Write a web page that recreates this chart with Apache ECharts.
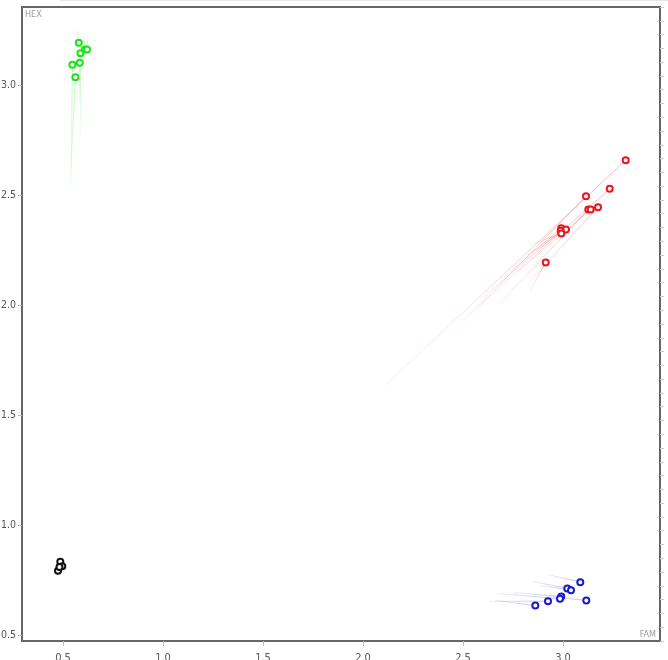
<!DOCTYPE html>
<html><head><meta charset="utf-8">
<script src="https://cdn.jsdelivr.net/npm/echarts@6/dist/echarts.min.js"></script>
<style>html,body{margin:0;padding:0;background:#fff}#c{width:668px;height:660px}</style>
</head><body><div id="c"></div>
<script>
// current positions
var greenX = [0.579, 0.587, 0.609, 0.620, 0.547, 0.584, 0.562];
var greenY = [3.192, 3.145, 3.162, 3.162, 3.092, 3.101, 3.035];
var greenFromX = [0.570, 0.587, 0.605, 0.625, 0.540, 0.580, 0.535];
var greenFromY = [3.250, 2.768, 3.236, 3.223, 2.577, 2.932, 2.523];

var redX = [3.3135, 3.2335, 3.115, 3.1265, 3.1385, 3.175, 2.9915, 3.015, 2.9885, 2.9915, 2.9135];
var redY = [2.659, 2.529, 2.495, 2.435, 2.435, 2.445, 2.350, 2.344, 2.338, 2.326, 2.194];
var redFromX = [2.100, 2.470, 2.535, 2.675, 2.785, 2.825, 2.685, 2.820, 2.585, 2.835, 2.835];
var redFromY = [1.627, 1.909, 1.955, 2.000, 2.159, 2.100, 2.114, 2.227, 2.023, 2.273, 2.068];

var blueX = [3.0865, 3.0215, 3.040, 2.9915, 2.985, 3.1165, 2.925, 2.8615];
var blueY = [0.742, 0.714, 0.706, 0.677, 0.667, 0.659, 0.656, 0.636];
var blueFromX = [2.925, 2.850, 2.885, 2.750, 2.670, 2.935, 2.630, 2.660];
var blueFromY = [0.777, 0.745, 0.727, 0.695, 0.691, 0.677, 0.655, 0.659];

var blackX = [0.4865, 0.4965, 0.475, 0.4825];
var blackY = [0.835, 0.814, 0.794, 0.811];

var xAxisName = 'FAM', yAxisName = 'HEX';

var groups = [
  {color:'#18e618', rgb:'24,230,24', x:greenX, y:greenY, fx:greenFromX, fy:greenFromY},
  {color:'#e8161e', rgb:'232,22,30', x:redX, y:redY, fx:redFromX, fy:redFromY},
  {color:'#1a1acc', rgb:'26,26,204', x:blueX, y:blueY, fx:blueFromX, fy:blueFromY},
  {color:'#111111', rgb:'17,17,17', x:blackX, y:blackY, fx:null, fy:null}
];

var series = [];
groups.forEach(function(g){
  if (g.fx) {
    g.x.forEach(function(_, i){
      var x0 = g.fx[i], y0 = g.fy[i], x1 = g.x[i], y1 = g.y[i];
      var grad = new echarts.graphic.LinearGradient(
        x0 < x1 ? 0 : 1, y0 > y1 ? 0 : 1, x0 < x1 ? 1 : 0, y0 > y1 ? 1 : 0,
        [{offset:0, color:'rgba(' + g.rgb + ',0.06)'}, {offset:1, color:'rgba(' + g.rgb + ',0.3)'}]);
      series.push({
        type:'line', data:[[x0,y0],[x1,y1]], symbol:'none', silent:true,
        lineStyle:{width:1, color:grad}, z:1, animation:false
      });
    });
  }
  series.push({
    type:'scatter', symbol:'emptyCircle', symbolSize:6,
    data: g.x.map(function(v,i){return [v, g.y[i]];}),
    itemStyle:{color:g.color, borderWidth:2, opacity:1},
    z:3, animation:false
  });
});

var chart = echarts.init(document.getElementById('c'), null, {renderer:'canvas'});
chart.setOption({
  backgroundColor:'#fff',
  animation:false,
  grid:{left:22, right:8, top:7, bottom:19, outerBoundsMode:'none', containLabel:false,
    show:true, borderColor:'#666', borderWidth:2, backgroundColor:'transparent'},
  xAxis:{type:'value', min:0.295, max:3.485, splitNumber:6,
    axisLine:{show:false}, splitLine:{show:false},
    axisTick:{show:true, length:5, lineStyle:{color:'#bbb'}},
    axisLabel:{showMinLabel:false, showMaxLabel:false, color:'#555', fontSize:11, fontFamily:'DejaVu Sans Condensed, DejaVu Sans', margin:12,
      formatter:function(v){return v.toFixed(1);}}},
  yAxis:[{type:'value', min:0.475, max:3.3545, splitNumber:6,
    axisLine:{show:false}, splitLine:{show:false},
    axisTick:{show:true, length:4, lineStyle:{color:'#bbb'}},
    axisLabel:{showMinLabel:false, showMaxLabel:false, color:'#555', fontSize:10.5, fontFamily:'DejaVu Sans Condensed, DejaVu Sans', margin:6,
      formatter:function(v){return v.toFixed(1);}}},
    {type:'value', position:'right', min:0, max:46, interval:1,
    axisLine:{show:false}, splitLine:{show:false}, axisLabel:{show:false},
    axisTick:{show:true, length:4, lineStyle:{color:'#ccc'}}}],
  graphic:[
    {type:'text', left:25, top:10, style:{text:yAxisName, fill:'#999', fontSize:9, fontFamily:'DejaVu Sans Condensed, DejaVu Sans'}},
    {type:'text', right:12, top:630, style:{text:xAxisName, fill:'#999', fontSize:9, fontFamily:'DejaVu Sans Condensed, DejaVu Sans'}},
    {type:'line', shape:{x1:60, y1:0.5, x2:668, y2:0.5}, style:{stroke:'#e6e6e6', lineWidth:1}}
  ],
  series:series
});
</script></body></html>
